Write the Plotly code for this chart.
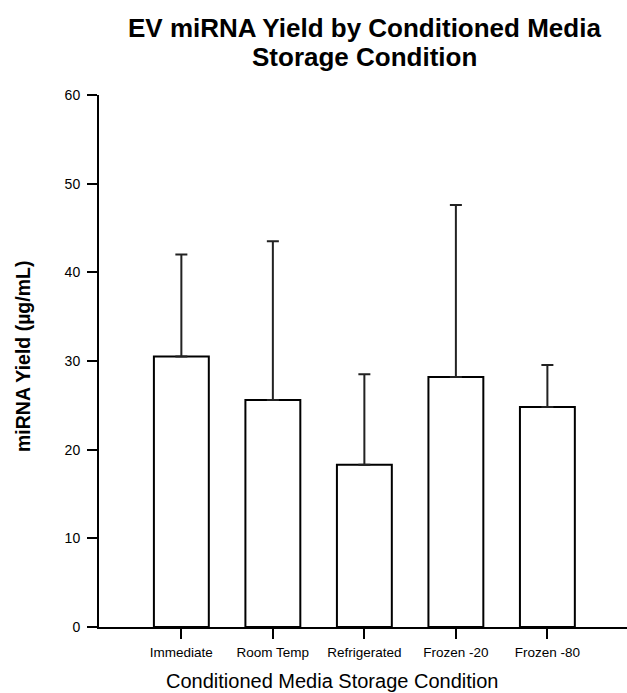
import plotly.graph_objects as go

categories = ["Immediate", "Room Temp", "Refrigerated", "Frozen -20", "Frozen -80"]
yield_mean = [30.5, 25.6, 18.3, 28.2, 24.8]
yield_err = [11.5, 17.9, 10.2, 19.4, 4.75]
y_ticks = [0, 10, 20, 30, 40, 50, 60]
title_lines = ["EV miRNA Yield by Conditioned Media", "Storage Condition"]

FONT = "Liberation Sans, Arial, sans-serif"

fig = go.Figure()
fig.add_trace(go.Bar(
    x=categories,
    y=yield_mean,
    width=0.6,
    marker=dict(color="white", line=dict(color="black", width=2)),
    error_y=dict(type="data", symmetric=False, array=yield_err,
                 arrayminus=[0] * len(yield_err),
                 color="#222222", thickness=2, width=6),
    showlegend=False,
    hoverinfo="skip",
))

W, H = 627, 693
ml, mr, mt, mb = 99, 0, 95, 66
pw, ph = W - ml - mr, H - mt - mb


def px_x(p):
    return (p - ml) / pw


def px_y(p):
    return (H - mb - p) / ph


fig.update_layout(
    width=W, height=H,
    margin=dict(l=ml, r=mr, t=mt, b=mb, pad=0),
    plot_bgcolor="white", paper_bgcolor="white",
    font=dict(family=FONT, color="black"),
    xaxis=dict(
        range=[-0.9, 4.87],
        showline=True, linecolor="black", linewidth=2,
        ticks="outside", ticklen=10, tickwidth=2, tickcolor="black",
        tickfont=dict(size=13.5, family=FONT, color="black"),
        ticklabelstandoff=2,
        showgrid=False, zeroline=False,
    ),
    yaxis=dict(
        range=[0, 60],
        tickvals=y_ticks,
        showline=True, linecolor="black", linewidth=2,
        ticks="outside", ticklen=10, tickwidth=2, tickcolor="black",
        tickfont=dict(size=14, family=FONT, color="black"),
        ticklabelstandoff=4,
        showgrid=False, zeroline=False,
    ),
    annotations=[
        dict(text=title_lines[0],
             xref="paper", yref="paper", x=px_x(364), y=px_y(28),
             xanchor="center", yanchor="middle", showarrow=False,
             font=dict(family=FONT, size=26, weight="bold", color="black")),
        dict(text=title_lines[1],
             xref="paper", yref="paper", x=px_x(364), y=px_y(57),
             xanchor="center", yanchor="middle", showarrow=False,
             font=dict(family=FONT, size=26, weight="bold", color="black")),
        dict(text="Conditioned Media Storage Condition",
             xref="paper", yref="paper", x=px_x(332), y=px_y(681),
             xanchor="center", yanchor="middle", showarrow=False,
             font=dict(family=FONT, size=20, color="black")),
        dict(text="miRNA Yield (µg/mL)",
             xref="paper", yref="paper", x=px_x(23), y=px_y(357),
             xanchor="center", yanchor="middle", showarrow=False,
             textangle=-90,
             font=dict(family=FONT, size=19.5, weight="bold", color="black")),
    ],
)

fig.write_html(
    "out.html",
    config={"displayModeBar": False},
    post_script="document.body.style.margin='0';document.body.style.overflow='hidden';",
)
